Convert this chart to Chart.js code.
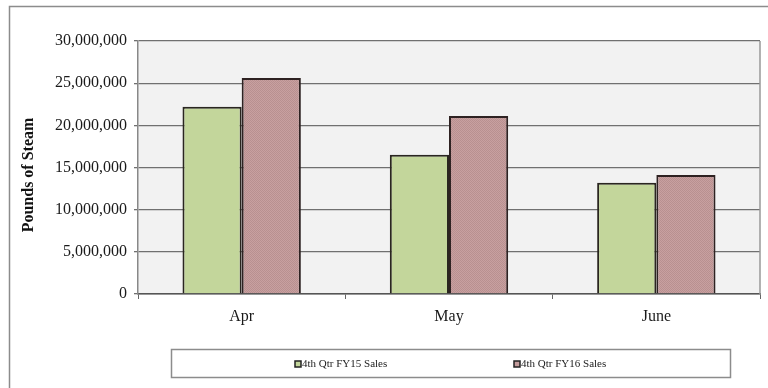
<!DOCTYPE html>
<html>
<head>
<meta charset="utf-8">
<script src="https://cdn.jsdelivr.net/npm/chart.js@4"></script>
<style>
  html, body { margin: 0; padding: 0; background: #fff; }
  #wrap { width: 768px; height: 388px; position: relative; }
</style>
</head>
<body>
<div id="wrap"><canvas id="myChart" width="768" height="388"></canvas></div>
<script>
    // Datos
    const meses = ['Apr', 'May', 'June'];
    const ventasFY15 = [22200000, 16500000, 13200000];
    const ventasFY16 = [25600000, 21100000, 14100000];
    const nombresSeries = ['4th Qtr FY15 Sales', '4th Qtr FY16 Sales'];
    const tituloY = 'Pounds of Steam';

    const fuente = '"Liberation Serif", "Times New Roman", serif';

    // Patrón punteado fino para las barras rosas
    const crearPatron = () => {
        const c = document.createElement('canvas');
        c.width = 2; c.height = 2;
        const p = c.getContext('2d');
        p.fillStyle = 'rgb(200,160,160)';
        p.fillRect(0, 0, 2, 2);
        p.fillStyle = 'rgb(184,144,144)';
        p.fillRect(0, 0, 1, 1);
        p.fillRect(1, 1, 1, 1);
        return p.createPattern(c, 'repeat');
    };
    const patronRosa = crearPatron();
    const colorVerde = 'rgb(195,214,155)';

    // Fondo del área de trazado, marco exterior, leyenda y título del eje
    const decoracion = {
        id: 'decoracion',
        beforeDraw(chart) {
            const { ctx, chartArea: a } = chart;
            ctx.save();
            ctx.fillStyle = '#f2f2f2';
            ctx.fillRect(a.left, a.top, a.right - a.left, a.bottom - a.top);
            ctx.restore();
        },
        afterDraw(chart) {
            const { ctx, chartArea: a } = chart;
            ctx.save();
            // borde derecho del área
            ctx.strokeStyle = '#999';
            ctx.lineWidth = 1.5;
            ctx.beginPath();
            ctx.moveTo(a.right, a.top);
            ctx.lineTo(a.right, a.bottom);
            ctx.stroke();

            // marco exterior
            ctx.strokeStyle = '#8c8c8c';
            ctx.lineWidth = 1.5;
            ctx.beginPath();
            ctx.moveTo(9.5, 388);
            ctx.lineTo(9.5, 6.5);
            ctx.lineTo(768, 6.5);
            ctx.stroke();

            // caja de la leyenda
            ctx.fillStyle = '#fff';
            ctx.fillRect(171, 349, 560, 29);
            ctx.strokeStyle = '#8c8c8c';
            ctx.strokeRect(171.5, 349.5, 559, 28);

            const posiciones = [295, 514];
            ctx.font = '11px ' + fuente;
            ctx.textBaseline = 'middle';
            ctx.textAlign = 'left';
            chart.data.datasets.forEach((ds, i) => {
                const x = posiciones[i];
                ctx.fillStyle = i === 0 ? colorVerde : 'rgb(195,155,155)';
                ctx.fillRect(x, 361, 6, 6);
                ctx.strokeStyle = '#222';
                ctx.lineWidth = 1.5;
                ctx.strokeRect(x, 361, 6, 6);
                ctx.fillStyle = '#222';
                ctx.fillText(ds.label, x + 7, 364.5);
            });

            // título del eje Y
            ctx.translate(29, 175);
            ctx.rotate(-Math.PI / 2);
            ctx.font = 'bold 16px ' + fuente;
            ctx.textAlign = 'center';
            ctx.textBaseline = 'middle';
            ctx.fillStyle = '#111';
            ctx.fillText(tituloY, 0, 0);
            ctx.restore();
        }
    };

    const ctx = document.getElementById('myChart').getContext('2d');
    const myChart = new Chart(ctx, {
        type: 'bar',
        data: {
            labels: meses,
            datasets: [
                {
                    label: nombresSeries[0],
                    data: ventasFY15,
                    backgroundColor: colorVerde,
                    borderColor: '#2a2620',
                    borderWidth: 2,
                    categoryPercentage: 0.571,
                    barPercentage: 1.0
                },
                {
                    label: nombresSeries[1],
                    data: ventasFY16,
                    backgroundColor: patronRosa,
                    borderColor: '#2e2222',
                    borderWidth: 2,
                    categoryPercentage: 0.571,
                    barPercentage: 1.0
                }
            ]
        },
        options: {
            responsive: false,
            animation: false,
            layout: { padding: { left: 0, top: 41, right: 8, bottom: 0 } },
            plugins: {
                legend: { display: false },
                tooltip: { enabled: false }
            },
            scales: {
                x: {
                    afterFit: (s) => { s.height = 94; },
                    grid: {
                        display: true,
                        offset: true,
                        drawOnChartArea: false,
                        drawTicks: true,
                        tickLength: 5,
                        color: '#666'
                    },
                    border: { display: true, color: '#555', width: 1.5 },
                    ticks: {
                        color: '#1a1a1a',
                        padding: 8,
                        font: { family: fuente, size: 16 }
                    }
                },
                y: {
                    min: 0,
                    max: 30000000,
                    afterFit: (s) => { s.width = 138; },
                    grid: {
                        color: '#707070',
                        lineWidth: 1.3,
                        tickLength: 4
                    },
                    border: { display: true, color: '#888', width: 1.5 },
                    ticks: {
                        stepSize: 5000000,
                        color: '#1a1a1a',
                        padding: 7,
                        font: { family: fuente, size: 16 },
                        callback: (v) => v.toLocaleString('en-US')
                    }
                }
            }
        },
        plugins: [decoracion]
    });
</script>
</body>
</html>
